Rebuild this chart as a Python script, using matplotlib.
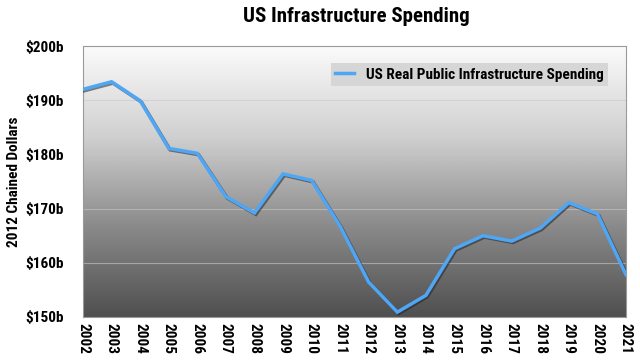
import matplotlib
matplotlib.use("Agg")
import matplotlib.pyplot as plt
import matplotlib.patheffects as pe
import numpy as np
from matplotlib.colors import LinearSegmentedColormap
from matplotlib.lines import Line2D

years = list(range(2002, 2022))
spending = [192.0, 193.4, 189.9, 181.1, 180.2, 172.2, 169.2, 176.4, 175.2, 166.7,
            156.4, 150.9, 154.0, 162.6, 165.0, 164.0, 166.4, 171.1, 169.0, 157.8]
yticks = [150, 160, 170, 180, 190, 200]
ytick_labels = ["$150b", "$160b", "$170b", "$180b", "$190b", "$200b"]

FONT = ["Roboto Condensed", "Archivo Narrow", "DejaVu Sans"]
plt.rcParams['font.family'] = FONT

fig = plt.figure(figsize=(6.4, 3.63), dpi=100)
ax = fig.add_axes([83/640, 1-317/363, (626-83)/640, (317-46)/363])

# gradient background
cmap = LinearSegmentedColormap.from_list("bg", ["#fbfbfb", "#d0d0d0", "#8a8a8a", "#4f4f4f"])
grad = np.linspace(0, 1, 256).reshape(-1, 1)
ax.imshow(grad, aspect="auto", cmap=cmap, extent=[0, 1, 0, 1], transform=ax.transAxes, zorder=0)

for y in yticks[1:-1]:
    ax.axhline(y, color="#c8c8c8", lw=0.8, alpha=0.6, zorder=1)

ax.plot(years, spending, color="#4ea6f5", lw=2.5, zorder=3, solid_joinstyle="miter",
        path_effects=[pe.SimpleLineShadow(offset=(1, -1), shadow_color="#222222", alpha=0.55),
                      pe.Normal()])

ax.set_xlim(2002, 2021)
ax.set_ylim(150, 200)
ax.set_yticks(yticks)
ax.set_yticklabels(ytick_labels, fontsize=11, fontweight="bold")
ax.set_xticks(years)
ax.set_xticklabels([str(y) for y in years], rotation=-90, fontsize=11, fontweight="bold")
ax.tick_params(length=0, pad=4)
ax.tick_params(axis="y", pad=14)

for s in ax.spines.values():
    s.set_color("#9a9a9a")
    s.set_linewidth(0.8)

ax.set_ylabel("2012 Chained Dollars", fontsize=11, fontweight="bold")
ax.yaxis.set_label_coords(-0.115, 0.5)

fig.text(356/640, 1-17/363, "US Infrastructure Spending", ha="center", va="center",
         fontsize=15, fontweight="bold")

handle = Line2D([], [], color="#4ea6f5", lw=2.5)
leg = ax.legend([handle], ["US Real Public Infrastructure Spending"],
                loc="upper right", bbox_to_anchor=(0.967, 0.937), borderaxespad=0,
                frameon=True, prop={"family": FONT, "weight": "bold", "size": 11},
                handlelength=1.2, borderpad=0.3, fancybox=False)
leg.get_frame().set_facecolor("#d6d6d6")
leg.get_frame().set_edgecolor("none")
leg.get_frame().set_alpha(1)

fig.savefig("out.png", dpi=100)
